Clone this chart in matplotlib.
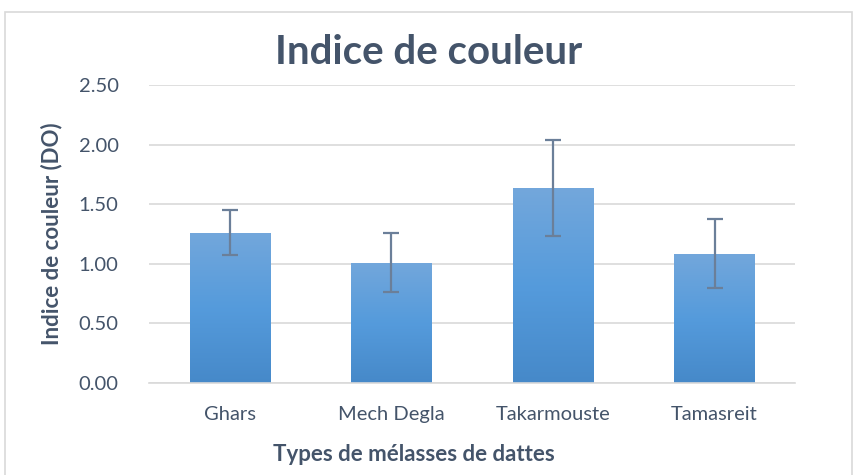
import numpy as np
import matplotlib
matplotlib.use('Agg')
import matplotlib.pyplot as plt
from matplotlib.patches import Rectangle

# données
categories = ['Ghars', 'Mech Degla', 'Takarmouste', 'Tamasreit']
values = [1.26, 1.01, 1.635, 1.085]
errors = [0.19, 0.245, 0.40, 0.29]
yticks = [0.0, 0.5, 1.0, 1.5, 2.0, 2.5]

plt.rcParams['font.family'] = ['Lato', 'DejaVu Sans']
TXT = '#44546A'
GRID = '#D9D9D9'

fig = plt.figure(figsize=(8.57, 4.75), dpi=100)
fig.patch.set_facecolor('white')
ax = fig.add_axes([0.174, 0.194, 0.754, 0.627])

x = np.arange(len(categories))
bars = ax.bar(x, values, width=0.5, color='#5B9BD5', zorder=2)

# dégradé vertical dans chaque barre
grad = np.linspace(0, 1, 256).reshape(-1, 1)
cmap = matplotlib.colors.LinearSegmentedColormap.from_list(
    'g', ['#4689C9', '#559BDC', '#73A7DB'])
for b in bars:
    b.set_facecolor('none')
    im = ax.imshow(grad, cmap=cmap, aspect='auto', origin='lower',
                   extent=[b.get_x(), b.get_x() + b.get_width(), 0, b.get_height()],
                   zorder=2)
    im.set_clip_path(b)

ax.errorbar(x, values, yerr=errors, fmt='none', ecolor='#6B7F99',
            elinewidth=1.6, capsize=6, capthick=1.6, zorder=3)

ax.set_xlim(-0.5, len(categories) - 0.5)
ax.set_ylim(0, 2.5)
ax.set_yticks(yticks)
ax.set_yticklabels([f'{v:.2f}' for v in yticks])
ax.set_xticks(x)
ax.set_xticklabels(categories)
ax.tick_params(axis='both', length=0, labelsize=14.5, colors=TXT)
ax.tick_params(axis='x', pad=17)
ax.tick_params(axis='y', pad=22)
ax.grid(axis='y', color=GRID, lw=1.2, zorder=0)
ax.set_axisbelow(True)
for s in ['top', 'right', 'left']:
    ax.spines[s].set_visible(False)
ax.spines['bottom'].set_color(GRID)
ax.spines['bottom'].set_linewidth(1.2)

ax.set_xlabel('Types de mélasses de dattes', fontsize=16, fontweight='bold',
              color=TXT, va='center')
ax.xaxis.set_label_coords(0.409, -0.242)
ax.set_ylabel('Indice de couleur (DO)', fontsize=16, fontweight='bold',
              color=TXT, labelpad=12)
fig.text(0.5, 0.89, 'Indice de couleur', ha='center', va='center',
         fontsize=29, fontweight='bold', color='#44546A')

# cadre du graphique
fig.patches.append(Rectangle((0.006, -0.01), 0.988, 0.985, transform=fig.transFigure,
                             fill=False, edgecolor=GRID, lw=1.2))

fig.savefig('out.png', dpi=100, facecolor='white')
